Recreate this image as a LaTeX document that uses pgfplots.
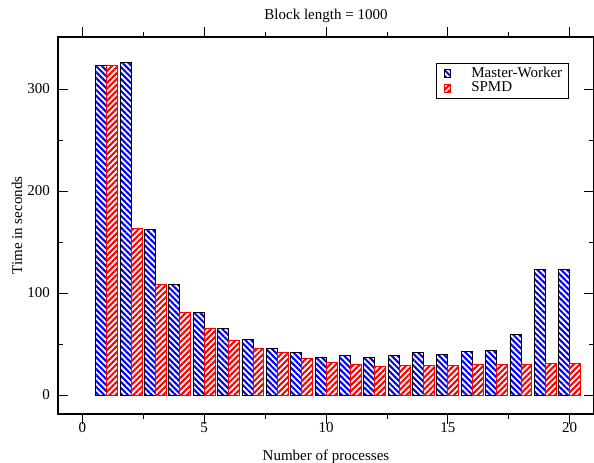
\documentclass[border=0pt]{standalone}
\usepackage{fontspec}
\setmainfont{Liberation Serif}
\usepackage{pgfplots}
\pgfplotsset{compat=1.18}
\usetikzlibrary{patterns.meta}

\begin{document}
\fontsize{15bp}{18bp}\selectfont
\begin{tikzpicture}
\begin{axis}[
  scale only axis, width=536bp, height=377bp,
  xmin=-1, xmax=21, ymin=-18.6, ymax=351,
  xtick={0,5,10,15,20}, minor xtick={2.5,7.5,12.5,17.5},
  ytick={0,100,200,300}, minor ytick={50,150,250},
  tick align=inside, major tick length=10bp, minor tick length=5bp,
  tick style={black, line width=0.8pt},
  axis line style={line width=1.2pt},
  /pgf/number format/assume math mode=true,
  xticklabel style={anchor=center, yshift=-3.5bp},
  yticklabel style={anchor=east, inner sep=0pt, xshift=-8bp},
  title={Block length = 1000},
  title style={at={(axis description cs:0.5,1)}, anchor=center, yshift=15bp},
  xlabel={Number of processes},
  xlabel style={at={(axis description cs:0.5,0)}, anchor=center, yshift=-43bp},
  ylabel={Time in seconds},
  ylabel style={at={(axis description cs:-0.0765,0.5)}, anchor=center, rotate=0},
  ybar=0pt, bar width=0.45,
  legend style={at={(0.705,0.931)}, anchor=north west, draw=black,
    line width=0.8pt, inner xsep=4bp, inner ysep=2bp,
    row sep=-2bp, font=\fontsize{15bp}{16bp}\selectfont},
  legend cell align=left,
  legend image code/.code={\draw[#1] (4bp,-4bp) rectangle (10bp,4bp);
    \path[draw=none,fill=none] (0bp,-4bp) rectangle (29bp,4bp);},
]
\addplot[bar shift=-0.225, draw=black, line width=0.8pt,
  pattern={Lines[angle=-45,distance=4.2bp,line width=2.1bp]}, pattern color=blue]
  coordinates {
  (1,323.5) (2,326) (3,162.4) (4,108.5) (5,81) (6,65) (7,54.5) (8,46)
  (9,41.5) (10,37) (11,39) (12,37) (13,39) (14,42) (15,40) (16,43)
  (17,44) (18,59.5) (19,123.5) (20,123.5)};
\addplot[bar shift=0.225, draw=red, line width=0.8pt,
  pattern={Lines[angle=45,distance=4.2bp,line width=2.1bp]}, pattern color=red]
  coordinates {
  (1,323.5) (2,163.7) (3,108.8) (4,81.4) (5,65) (6,54) (7,46) (8,41.5)
  (9,36) (10,32) (11,30) (12,28) (13,29) (14,29) (15,29) (16,30)
  (17,30) (18,30) (19,31) (20,31)};
\legend{Master-Worker, SPMD}
\end{axis}
\pgfresetboundingbox
\path ([xshift=-58bp,yshift=-49bp]current axis.south west)
  rectangle ([yshift=37bp]current axis.north east);
\end{tikzpicture}
\end{document}
